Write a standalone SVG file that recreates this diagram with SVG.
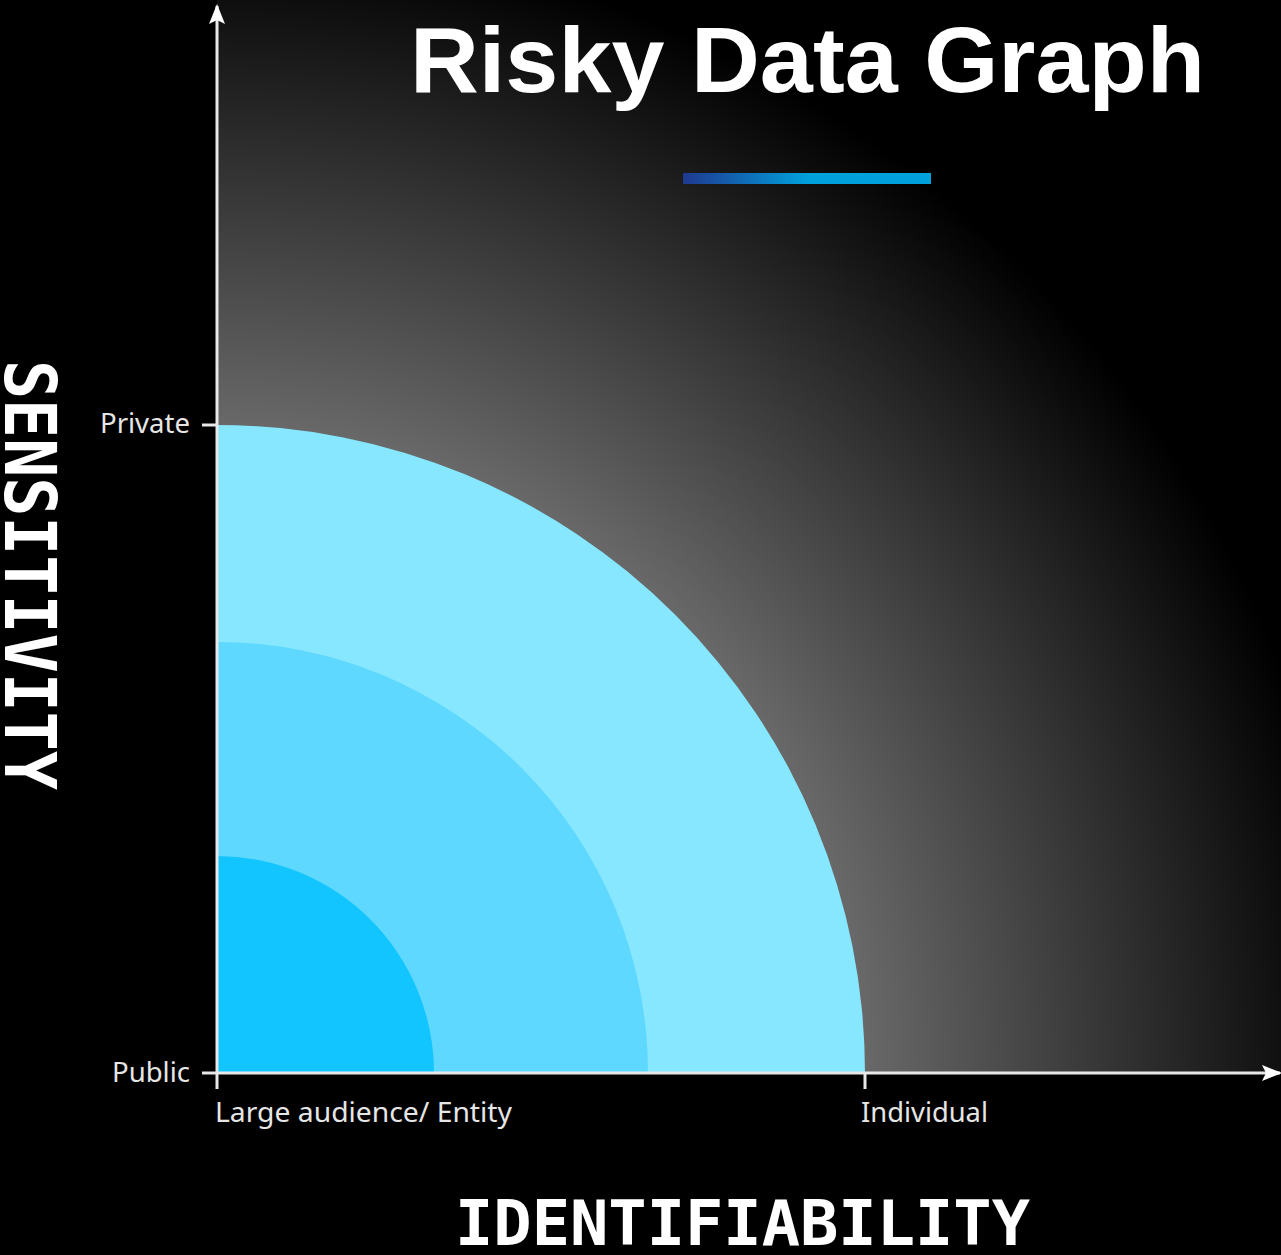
<svg xmlns="http://www.w3.org/2000/svg" width="1281" height="1255" viewBox="0 0 1281 1255">
<defs>
<radialGradient id="bg" gradientUnits="userSpaceOnUse" cx="217" cy="1073" r="1140">
<stop offset="0" stop-color="#8a8a8a"/>
<stop offset="0.57" stop-color="#686868"/>
<stop offset="1" stop-color="#000000"/>
</radialGradient>
<linearGradient id="bar" x1="0" y1="0" x2="1" y2="0">
<stop offset="0" stop-color="#1f3890"/>
<stop offset="0.5" stop-color="#00a0dc"/>
<stop offset="1" stop-color="#00a0dc"/>
</linearGradient>
<marker id="ah" viewBox="0 0 20 16" refX="18" refY="8" markerWidth="20" markerHeight="16" markerUnits="userSpaceOnUse" orient="auto">
<path d="M0,0 L20,8 L0,16 L4,8 Z" fill="#ffffff"/>
</marker>
<style>
.lbl{font-family:"Noto Sans","Open Sans","DejaVu Sans",sans-serif;font-size:28px;fill:#e6e6e6}
.ax{stroke:#e8e8e8;stroke-width:3;fill:none}
.big{font-family:"DejaVu Sans Mono","Liberation Mono",monospace;font-weight:bold;fill:#ffffff}
</style>
</defs>
<rect x="0" y="0" width="1281" height="1255" fill="#000000"/>
<rect x="217" y="0" width="1064" height="1073" fill="url(#bg)"/>
<g id="zone-outer"><path d="M217,1073 L217,425 A648,648 0 0 1 865,1073 Z" fill="#86e7ff"/></g>
<g id="zone-middle"><path d="M217,1073 L217,642 A431,431 0 0 1 648,1073 Z" fill="#5fd8ff"/></g>
<g id="zone-inner"><path d="M217,1073 L217,856 A217,217 0 0 1 434,1073 Z" fill="#12c5ff"/></g>
<g id="title">
<text x="410" y="92" font-family="Liberation Sans, Arial, sans-serif" font-weight="bold" font-size="92" fill="#ffffff" textLength="795" lengthAdjust="spacingAndGlyphs">Risky Data Graph</text>
<rect x="683" y="173" width="248" height="11" fill="url(#bar)"/>
</g>
<g id="connectors">
<line class="ax" x1="217" y1="1074" x2="217" y2="6" marker-end="url(#ah)"/>
<line class="ax" x1="216" y1="1073" x2="1280" y2="1073" marker-end="url(#ah)"/>
<line class="ax" x1="202" y1="425" x2="217" y2="425"/>
<line class="ax" x1="202" y1="1073" x2="217" y2="1073"/>
<line class="ax" x1="217" y1="1073" x2="217" y2="1089"/>
<line class="ax" x1="865" y1="1073" x2="865" y2="1089"/>
</g>
<g id="labels">
<text class="lbl" x="100" y="433" textLength="90" lengthAdjust="spacingAndGlyphs">Private</text>
<text class="lbl" x="112" y="1082" textLength="78" lengthAdjust="spacingAndGlyphs">Public</text>
<text class="lbl" x="215" y="1122" textLength="297" lengthAdjust="spacingAndGlyphs">Large audience/ Entity</text>
<text class="lbl" x="861" y="1122" textLength="127" lengthAdjust="spacingAndGlyphs">Individual</text>
</g>
<g id="axis-titles">
<text class="big" font-size="71" transform="translate(5,360) rotate(90)" textLength="430" lengthAdjust="spacingAndGlyphs">SENSITIVITY</text>
<text class="big" x="455" y="1245" font-size="62" textLength="575" lengthAdjust="spacingAndGlyphs">IDENTIFIABILITY</text>
</g>
</svg>
